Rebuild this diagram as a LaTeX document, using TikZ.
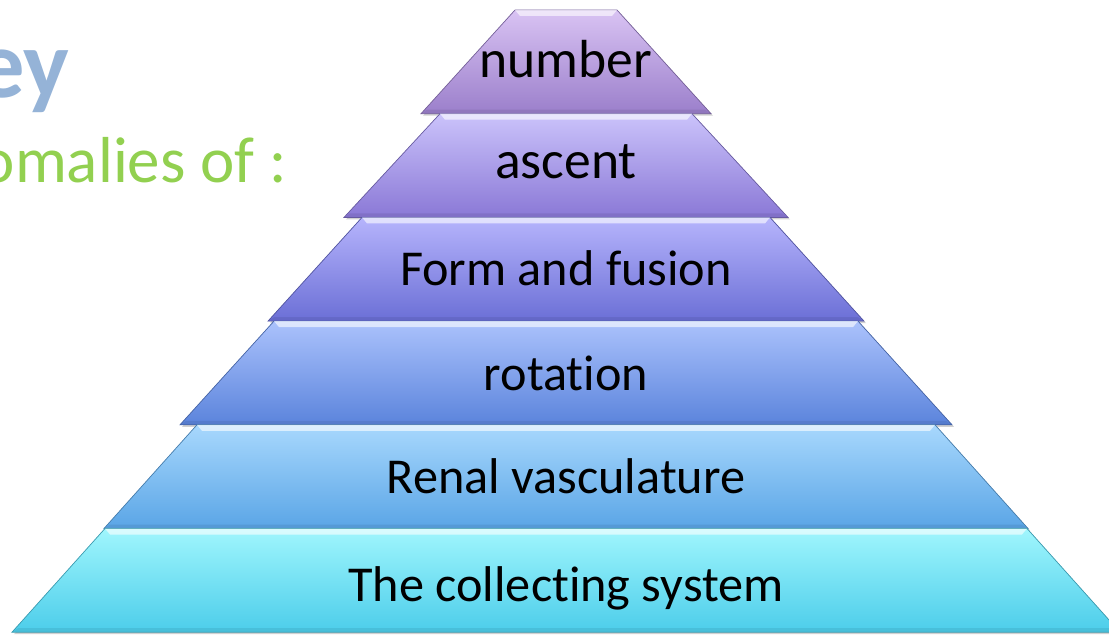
\documentclass[tikz,border=0pt]{standalone}
\usepackage{fontspec}
\setmainfont{Carlito}[Ligatures=NoCommon]
\usepackage{tikz}
\definecolor{ttlblue}{HTML}{95B3D7}
\definecolor{subgreen}{HTML}{92D050}

\begin{document}
\begin{tikzpicture}[x=0.02cm, y=-0.02cm,
  lbl/.style={anchor=base, inner sep=0},
  hilite/.style={white, opacity=.6},
  shadowed/.style={black, opacity=.18}]
\useasboundingbox (0,0) rectangle (1109,635);
\node[anchor=base east, inner sep=0, text=ttlblue, font=\fontsize{55}{60}\selectfont\bfseries] (ttl) at (70,98) {ey};
\node[anchor=base east, inner sep=0, text=subgreen, font=\fontsize{37}{42}\selectfont] (sub) at (287,182) {omalies of :};
% pyramid, top tier first
\foreach \i/\t/\b/\ct/\cb/\by/\fs/\nm/\txt in {
  0/51/145/D9C3F3/9B7FCB/78/30.5/num/number,
  1/126/222/CBC3FB/8A78D6/178/30.5/asc/ascent,
  2/204/298/B6B4FC/6B6FD6/285/28.6/form/Form and fusion,
  3/292/386/ABC2FC/5B84DC/390/28.6/rot/rotation,
  4/369/462/A8D8FD/5AA5E6/493/28.6/vasc/Renal vasculature,
  5/461/554/A0F6FD/4CCDEA/601/28.6/coll/The collecting system}{
  \pgfmathsetmacro\ya{10+103.7*\i}
  \pgfmathsetmacro\yb{\ya+103.7}
  \definecolor{ctop}{HTML}{\ct}
  \definecolor{cbot}{HTML}{\cb}
  \fill[shadowed] (568-\b,\yb+2) -- (568-\t,\ya+2) -- (568+\t,\ya+2) -- (568+\b,\yb+2) -- cycle;
  \shade[top color=ctop, bottom color=cbot, draw=cbot!75!black, line width=.4pt] (566-\b,\yb) -- (566-\t,\ya) -- (566+\t,\ya) -- (566+\b,\yb) -- cycle;
  \fill[hilite] (566-\t,\ya) -- (566+\t,\ya) -- (566+\t-5,\ya+6) -- (566-\t+5,\ya+6) -- cycle;
  \fill[cbot!80!black, opacity=.35] (566-\b,\yb) -- (566+\b,\yb) -- (566+\b-6,\yb-4) -- (566-\b+6,\yb-4) -- cycle;
  \node[lbl, font=\fontsize{\fs}{34}\selectfont] (\nm) at (566,\by) {\txt};
}
\end{tikzpicture}
\end{document}
